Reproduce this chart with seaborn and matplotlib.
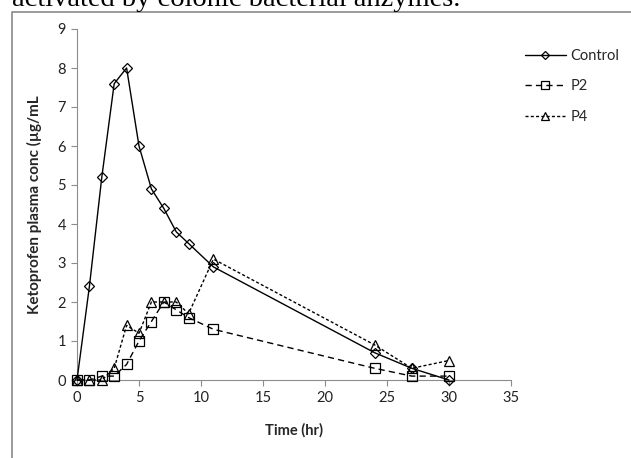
import numpy as np
import pandas as pd
import matplotlib
matplotlib.use("Agg")
import matplotlib.pyplot as plt
from matplotlib.lines import Line2D
import seaborn as sns

# Sampling times (hr) and plasma concentrations (µg/mL)
time_hr = [0, 1, 2, 3, 4, 5, 6, 7, 8, 9, 11, 24, 27, 30]
control = [0.0, 2.4, 5.2, 7.6, 8.0, 6.0, 4.9, 4.4, 3.8, 3.5, 2.9, 0.7, 0.3, 0.0]
p2 = [0.0, 0.0, 0.1, 0.1, 0.4, 1.0, 1.5, 2.0, 1.8, 1.6, 1.3, 0.3, 0.1, 0.1]
p4 = [0.0, 0.0, 0.0, 0.3, 1.4, 1.2, 2.0, 2.0, 2.0, 1.7, 3.1, 0.9, 0.3, 0.5]

series_names = ["Control", "P2", "P4"]
x_ticks = [0, 5, 10, 15, 20, 25, 30, 35]
y_ticks = list(range(0, 10))

df = pd.DataFrame({
    "time": time_hr * 3,
    "conc": control + p2 + p4,
    "group": [n for n in series_names for _ in time_hr],
})

sns.set_theme(style="white")
plt.rcParams["font.family"] = ["Lato", "DejaVu Sans"]

W, H = 631, 458
fig = plt.figure(figsize=(W / 100, H / 100), dpi=100)
ax = fig.add_axes([77 / W, 1 - 380 / H, (511 - 77) / W, (380 - 29) / H])

styles = {
    "Control": dict(marker="D", markersize=5.0, linestyle="-"),
    "P2": dict(marker="s", markersize=7.0, linestyle=(0, (4.5, 3))),
    "P4": dict(marker="^", markersize=7.0, linestyle=(0, (2.2, 1.6))),
}

for name in series_names:
    sub = df[df["group"] == name]
    st = styles[name]
    sns.lineplot(data=sub, x="time", y="conc", ax=ax, color="black",
                 linewidth=1.0, marker=st["marker"], markersize=st["markersize"],
                 markerfacecolor="none", markeredgecolor="black",
                 markeredgewidth=0.9, linestyle=st["linestyle"],
                 label=name, clip_on=False, zorder=3)

ax.set_xlim(0, 35)
ax.set_ylim(0, 9)
ax.set_xticks(x_ticks)
ax.set_yticks(y_ticks)
ax.tick_params(axis="both", which="both", direction="out", length=4,
               width=0.8, color="#8c8c8c", labelsize=10.5, labelcolor="#222222",
               bottom=True, left=True, pad=4)
for side in ["top", "right"]:
    ax.spines[side].set_visible(False)
for side in ["left", "bottom"]:
    ax.spines[side].set_color("#8c8c8c")
    ax.spines[side].set_linewidth(0.8)

ax.set_xlabel("Time (hr)", fontsize=10.5, fontweight="bold", labelpad=13)
ax.set_ylabel("Ketoprofen plasma conc (µg/mL", fontsize=11, fontweight="bold",
              labelpad=11)

ax.legend(loc="upper left", bbox_to_anchor=(525 / W, 1 - 49 / H),
          bbox_transform=fig.transFigure, frameon=False, fontsize=10.5,
          handlelength=2.8, handletextpad=0.3, labelspacing=1.12,
          markerscale=0.75, borderaxespad=0, borderpad=0)

# Surrounding frame (continues past the right and bottom edges)
frame_x = [12 / W, 12 / W, 1.01]
frame_y = [-0.01, 1 - 11.5 / H, 1 - 11.5 / H]
fig.add_artist(Line2D(frame_x, frame_y, transform=fig.transFigure,
                      color="#8a8a8a", linewidth=1.2))

fig.text(12 / W, 1 - 6.5 / H, "activated by colonic bacterial anzymes.",
         family="Liberation Serif", fontsize=20.5, va="baseline", ha="left",
         color="black")

fig.savefig("out.png", dpi=100, facecolor="white")
